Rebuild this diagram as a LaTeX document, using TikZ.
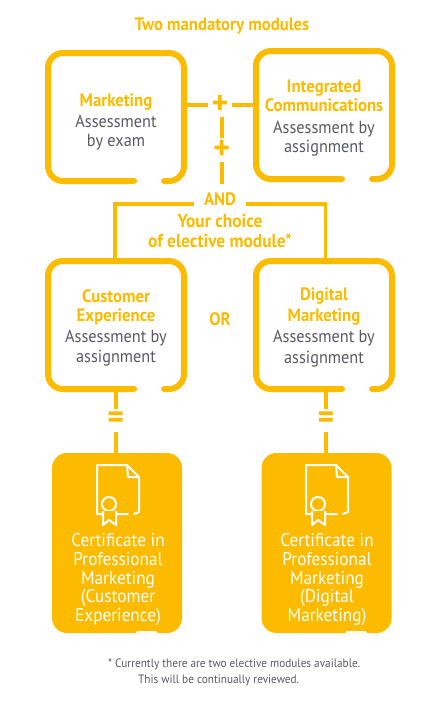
\documentclass[tikz,border=0pt]{standalone}
\usepackage{fontspec}
\setmainfont[FakeStretch=0.93]{PT Sans}
\usepackage{xcolor}
\usetikzlibrary{positioning,calc}
\definecolor{modgold}{RGB}{253,187,0}
\definecolor{modgrey}{RGB}{88,89,101}
\newcommand{\modhead}[1]{{\color{modgold}\fontsize{18}{19}\selectfont\bfseries #1}}

\begin{document}
\begin{tikzpicture}[
    x=1pt, y=-1pt,
    modbox/.style={
        rectangle, minimum width=136pt, minimum height=128pt, inner sep=0pt, outer sep=0pt
    },
    modline/.style={draw=modgold, line width=6pt, rounded corners=15pt, line cap=round},
    link/.style={draw=modgold, line width=3.6pt},
    modtext/.style={
        align=center, inner sep=0pt, text=modgrey, font=\fontsize{17.5}{19}\selectfont
    },
    goldtext/.style={
        align=center, inner sep=0pt, text=modgold, font=\fontsize{18}{20}\selectfont\bfseries
    },
    joint/.style={
        inner sep=0pt, minimum size=23pt, text=modgold, font=\fontsize{34}{34}\selectfont\bfseries
    },
    certbox/.style={
        rectangle, fill=modgold, rounded corners=15pt, minimum width=130pt, minimum height=180pt,
        inner sep=0pt, outer sep=0pt
    },
    certtext/.style={
        align=center, inner sep=0pt, text=white, font=\fontsize{18.5}{18.7}\selectfont
    },
    notetext/.style={
        anchor=west, inner sep=0pt, text=modgrey, font=\fontsize{12.1}{14}\selectfont
    },
    certicon/.pic={
        \draw[white, line width=2pt, line join=round, line cap=round]
            (-12,-39) -- (18,-39) -- (30,-27) -- (30,8) -- (25,10)
            (30,-27) -- (19,-27) -- (18,-39)
            (19,10) -- (-12,10) -- (-12,-39);
        \draw[white, line width=2pt, fill=modgold] (0,0) circle (7);
        \draw[white, line width=2pt, fill=modgold, line join=round]
            (-6,7) -- (-6,21) -- (0,16) -- (7,21) -- (7,7);
    }
]
\useasboundingbox (0,0) rectangle (438,702);

\node[goldtext] (title) at (222,26.5) {Two mandatory modules};

\node[modbox] (mktbox) at (116,117) {};
\node[modbox, right=72pt of mktbox, yshift=2pt] (intbox) {};
\node[modbox, below=80pt of mktbox] (cusbox) {};
\node[modbox, right=72pt of cusbox] (digbox) {};

\draw[modline] ([xshift=48pt]mktbox.south) -- (mktbox.south east) -- (mktbox.north east)
    -- (mktbox.north west) -- (mktbox.south west) -- ([xshift=18pt]mktbox.south);
\draw[modline] ([xshift=48pt]intbox.south) -- (intbox.south east) -- (intbox.north east)
    -- (intbox.north west) -- (intbox.south west) -- ([xshift=18pt]intbox.south);
\draw[modline] ([xshift=48pt]cusbox.south) -- (cusbox.south east) -- (cusbox.north east)
    -- (cusbox.north west) -- (cusbox.south west) -- ([xshift=18pt]cusbox.south);
\draw[modline] ([xshift=48pt]digbox.south) -- (digbox.south east) -- (digbox.north east)
    -- (digbox.north west) -- (digbox.south west) -- ([xshift=18pt]digbox.south);

\node[modtext] (mkttext) at ([yshift=-5pt]mktbox.center) {\modhead{Marketing}\\[2pt]Assessment\\by exam};
\node[modtext] (inttext) at ([yshift=-3.5pt]intbox.center) {\modhead{Integrated}\\\modhead{Communications}\\[3pt]Assessment by\\assignment};
\node[modtext] (custext) at ([yshift=-3pt]cusbox.center) {\modhead{Customer}\\\modhead{Experience}\\[2pt]Assessment by\\[1pt]assignment};
\node[modtext] (digtext) at ([yshift=-2.5pt]digbox.center) {\modhead{Digital}\\[2pt]\modhead{Marketing}\\[2pt]Assessment by\\[2pt]assignment};

\node[joint] (plusa) at (220,105) {+};
\node[joint] (plusb) at (221.7,150) {+};
\node[goldtext, minimum width=51pt, minimum height=30pt] (andlbl) at (220,199) {AND};
\node[goldtext, font=\fontsize{18.7}{20}\selectfont\bfseries] (choice) at (220,231) {Your choice\\of elective module*};
\node[goldtext] (orlbl) at (220,319) {OR};

\node[certbox, below=64pt of cusbox, xshift=1pt] (certa) {};
\node[certbox, below=64pt of digbox, xshift=2.5pt] (certb) {};
\fill[white] ([xshift=19pt]certa.south) -- ([xshift=20pt,yshift=2pt]certa.south)
    -- ([xshift=39pt,yshift=2pt]certa.south) -- ([xshift=41pt]certa.south) -- cycle;
\fill[white] ([xshift=19pt]certb.south) -- ([xshift=20pt,yshift=2pt]certb.south)
    -- ([xshift=39pt,yshift=2pt]certb.south) -- ([xshift=41pt]certb.south) -- cycle;

\pic at (109,504) {certicon};
\pic at (318,504) {certicon};

\node[certtext] (certatext) at (118,579.5) {Certificate in\\Professional\\Marketing\\(Customer\\Experience)};
\node[certtext] (certbtext) at (327,579.5) {Certificate in\\Professional\\Marketing\\(Digital\\Marketing)};

\node[joint] (eqa) at (115.7,420.5) {=};
\node[joint] (eqb) at (326,420.5) {=};

\node[notetext] (notea) at (108,664) {* Currently there are two elective modules available.};
\node[notetext] (noteb) at (138,680) {This will be continually reviewed.};

\draw[link] (mktbox.east |- plusa) -- (plusa);
\draw[link] (plusa) -- (intbox.west |- plusa);
\draw[link] ([xshift=1.7pt]plusa.south) -- (plusb);
\draw[link] (plusb) -- (plusb |- andlbl.north);

\draw[link] ([yshift=-5pt]andlbl.west) -| ([xshift=-1pt]cusbox.north);
\draw[link] ([yshift=-5pt]andlbl.east) -| ([xshift=1.5pt]digbox.north);

\draw[link] (eqa |- cusbox.south) -- (eqa);
\draw[link] (eqa) -- (eqa |- certa.north);
\draw[link] (eqb |- digbox.south) -- (eqb);
\draw[link] (eqb) -- (eqb |- certb.north);

\end{tikzpicture}
\end{document}
